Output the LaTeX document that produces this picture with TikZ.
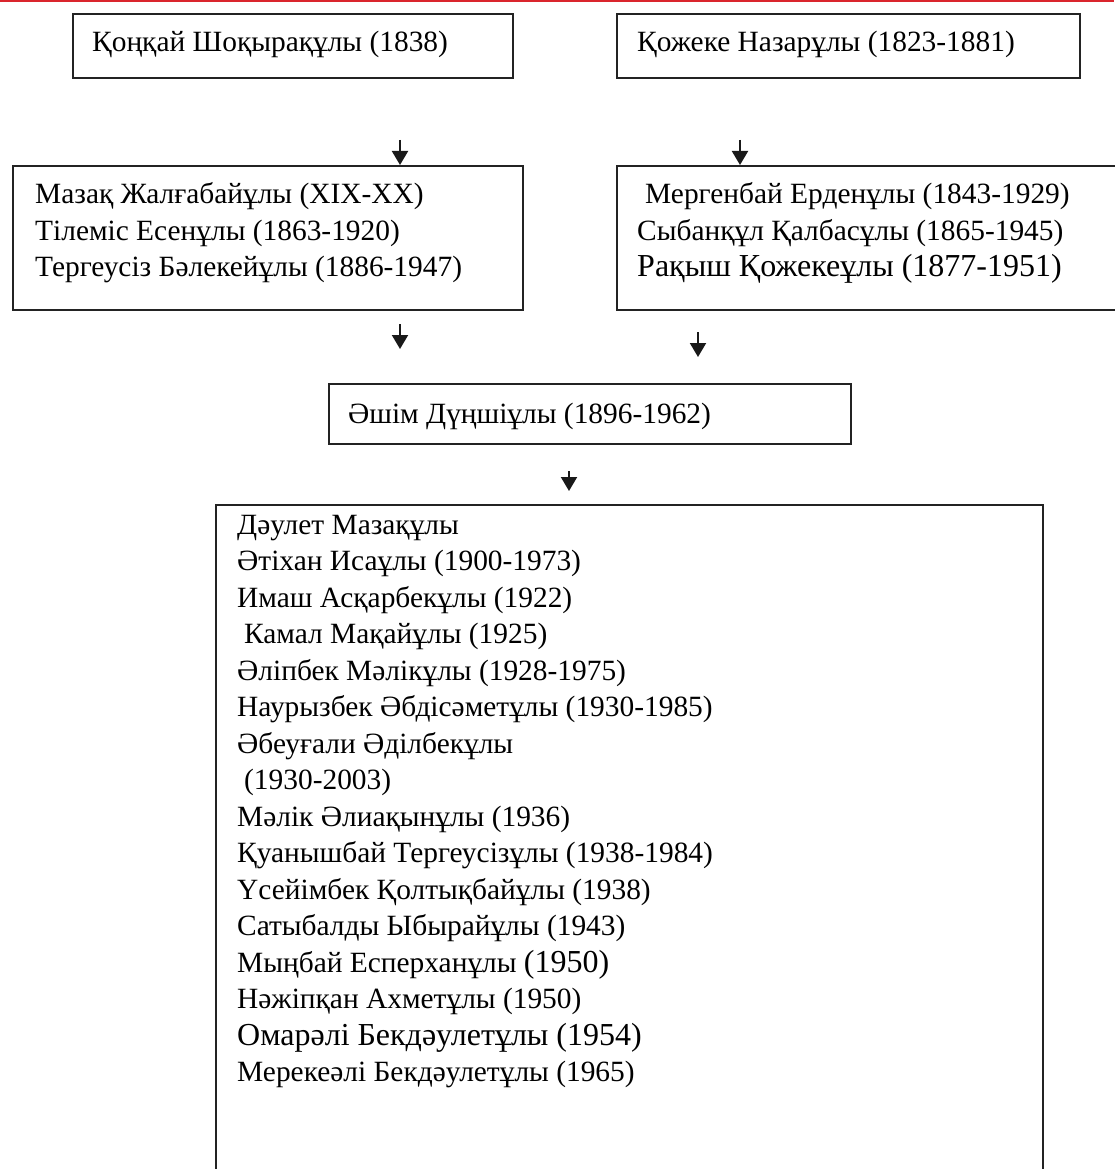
\documentclass[tikz,border=0pt]{standalone}
\usepackage{fontspec}
\setmainfont{Liberation Serif}
\usetikzlibrary{arrows.meta}
\definecolor{topred}{RGB}{218,37,45}
\definecolor{boxline}{RGB}{35,35,35}
\begin{document}
\begin{tikzpicture}[x=1pt,y=-1pt,
  box/.style={draw=boxline, line width=2pt, anchor=north west, inner sep=0pt},
  txt/.style={anchor=base west, inner sep=0pt, font=\fontsize{29.4}{36.5}\selectfont},
  arr/.style={-{Triangle[width=16pt,length=14pt]}, line width=2pt, draw=black!90},
  redrule/.style={draw=topred, line width=3pt}]
\useasboundingbox (0,0) rectangle (1114,1169);
% top red rule
\coordinate (rl) at (0,1);
\coordinate (rr) at (1114,1);
\draw[redrule] (rl) -- (rr);
% boxes
\node[box, minimum width=440pt, minimum height=64pt] (b1) at (72,13) {};
\node[box, minimum width=463pt, minimum height=64pt] (b2) at (616,13) {};
\node[box, minimum width=510pt, minimum height=144pt] (b3) at (12,165) {};
\node[box, minimum width=520pt, minimum height=144pt] (b4) at (616,165) {};
\node[box, minimum width=522pt, minimum height=60pt] (b5) at (328,383) {};
\node[box, minimum width=827pt, minimum height=700pt] (b6) at (215,504) {};
% texts
\node[txt] (t1) at (92,52) {Қоңқай Шоқырақұлы (1838)};
\node[txt] (t2) at (637,52) {Қожеке Назарұлы (1823-1881)};
\node[txt] (t3) at (35,204) {\parbox[t]{480pt}{\raggedright
  Мазақ Жалғабайұлы (XIX-XX)\\
  Тілеміс Есенұлы (1863-1920)\\
  Тергеусіз Бәлекейұлы (1886-1947)}};
\node[txt] (t4) at (637,204) {\parbox[t]{470pt}{\raggedright
  \hspace*{8pt}Мергенбай Ерденұлы (1843-1929)\\
  Сыбанқұл Қалбасұлы (1865-1945)\\
  {\fontsize{32}{36.5}\selectfont Рақыш Қожекеұлы (1877-1951)}}};
\node[txt] (t5) at (348,423) {Әшім Дүңшіұлы (1896-1962)};
\node[txt] (t6) at (237,534) {\parbox[t]{780pt}{\raggedright
  Дәулет Мазақұлы\\
  Әтіхан Исаұлы (1900-1973)\\
  Имаш Асқарбекұлы (1922)\\
  \hspace*{7pt}Камал Мақайұлы (1925)\\
  Әліпбек Мәлікұлы (1928-1975)\\
  Наурызбек Әбдісәметұлы (1930-1985)\\
  Әбеуғали Әділбекұлы\\
  \hspace*{7pt}(1930-2003)\\
  Мәлік Әлиақынұлы (1936)\\
  Қуанышбай Тергеусізұлы (1938-1984)\\
  Үсейімбек Қолтықбайұлы (1938)\\
  Сатыбалды Ыбырайұлы (1943)\\
  Мыңбай Есперханұлы {\fontsize{32}{36.5}\selectfont(1950)}\\
  Нәжіпқан Ахметұлы (1950)\\
  {\fontsize{32}{36.5}\selectfont Омарәлі Бекдәулетұлы (1954)}\\
  Мерекеәлі Бекдәулетұлы (1965)}};
% arrows
\coordinate (a1) at (400,140);
\coordinate (a2) at (740,140);
\coordinate (a3s) at (400,324);
\coordinate (a3e) at (400,349);
\coordinate (a4s) at (698,332);
\coordinate (a4e) at (698,357);
\coordinate (a5s) at (569,471);
\coordinate (a5e) at (569,491);
\draw[arr] (a1) -- (a1 |- b3.north);
\draw[arr] (a2) -- (a2 |- b4.north);
\draw[arr] (a3s) -- (a3e);
\draw[arr] (a4s) -- (a4e);
\draw[arr] (a5s) -- (a5e);
\end{tikzpicture}
\end{document}
